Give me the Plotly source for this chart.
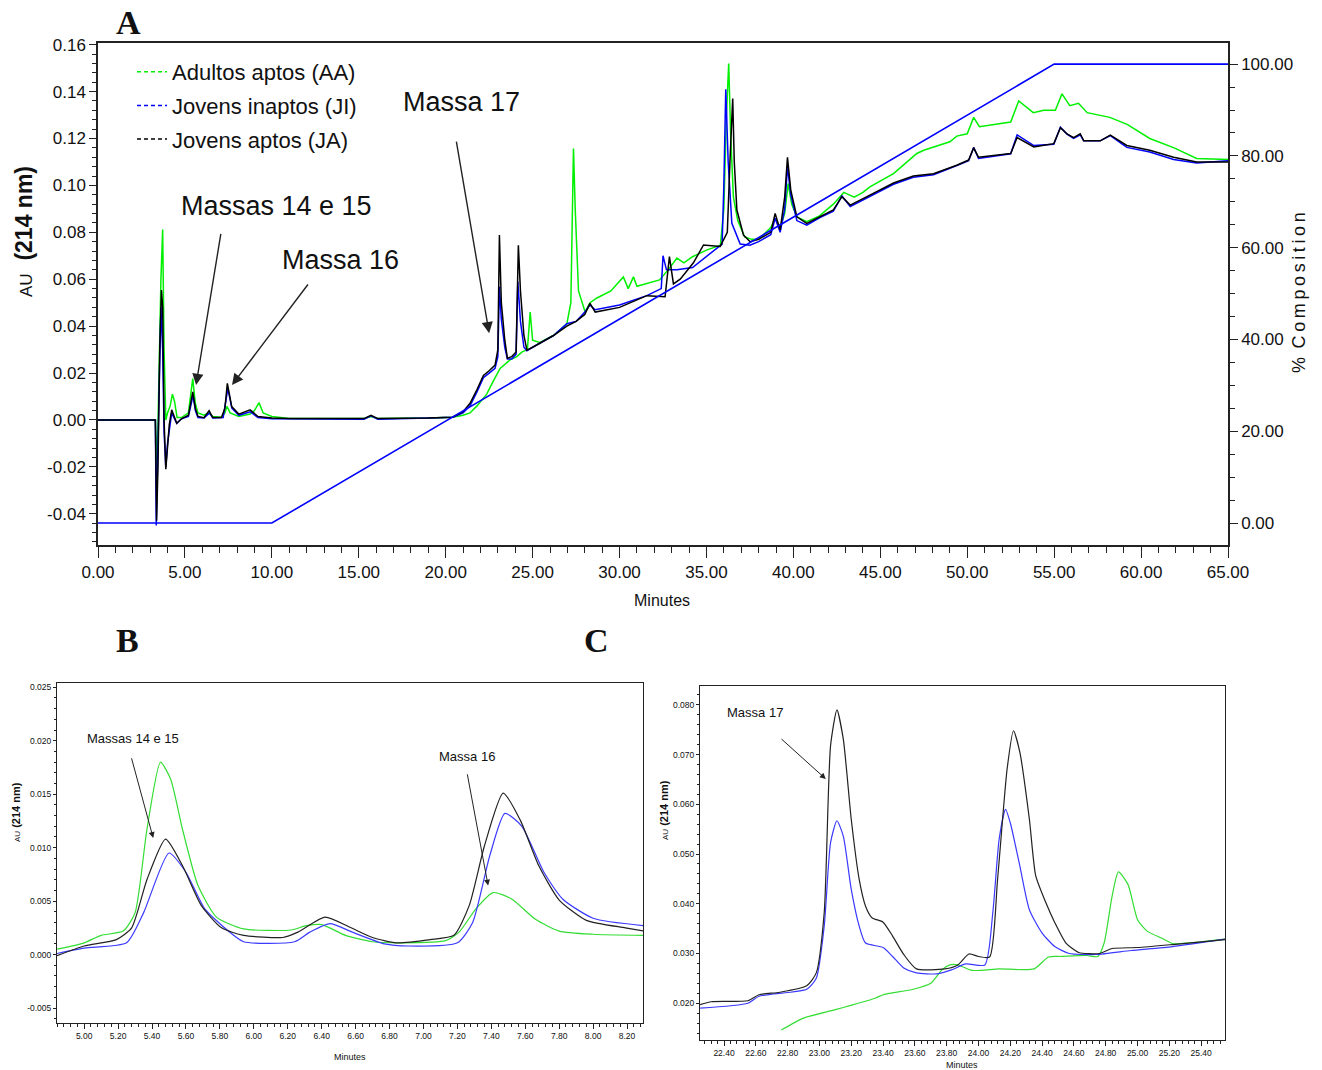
import plotly.graph_objects as go

# ---------------- Panel A data (minutes, AU) ----------------
ja_t = [0, 3.30, 3.37, 3.45, 3.55, 3.65, 3.72, 3.80, 3.90, 4.00, 4.10, 4.24, 4.40, 4.53, 4.80, 5.20, 5.45, 5.60, 5.75,
        6.10, 6.39, 6.60, 7.10, 7.30, 7.44, 7.55, 7.69, 8.10, 8.75, 9.20, 10.0, 11.0, 15.3, 15.7, 16.1, 19.0, 20.4,
        21.0, 21.4, 21.8, 22.17, 22.5, 22.84, 23.0, 23.09, 23.2, 23.4, 23.55, 23.8, 24.05, 24.18, 24.3, 24.5, 24.67,
        25.0, 26.2, 26.97, 27.5, 28.0, 28.3, 28.6, 30.0, 31.57, 32.62, 32.87, 33.1, 33.49, 34.25, 34.83, 35.79, 35.98,
        36.2, 36.35, 36.51, 36.6, 36.75, 37.13, 37.51, 38.0, 38.7, 38.95, 39.24, 39.5, 39.66, 39.85, 40.2, 40.77,
        41.5, 42.3, 42.79, 43.27, 44.23, 45.76, 46.9, 48.06, 49.4, 50.08, 50.37, 50.65, 52.5, 52.87, 53.83, 54.98,
        55.36, 55.74, 56.12, 56.5, 56.7, 57.65, 58.23, 59.18, 60.5, 61.87, 63.2, 65.0]
ja_au = [0.0, 0.0, -0.043, -0.02, 0.03, 0.0554, 0.048, 0.0, -0.021, -0.012, -0.002, 0.0043, 0.001, -0.0014, 0.0005,
         0.002, 0.012, 0.005, 0.0015, 0.001, 0.004, 0.001, 0.001, 0.005, 0.0156, 0.011, 0.0057, 0.0025, 0.0043,
         0.0015, 0.0008, 0.0006, 0.0006, 0.002, 0.0006, 0.0008, 0.0012, 0.0035, 0.0071, 0.013, 0.019, 0.021, 0.0234,
         0.03, 0.0788, 0.05, 0.034, 0.0263, 0.027, 0.029, 0.0745, 0.055, 0.036, 0.0298, 0.031, 0.036, 0.040, 0.042,
         0.045, 0.0497, 0.046, 0.048, 0.053, 0.0525, 0.0696, 0.058, 0.060, 0.067, 0.0746, 0.074, 0.077, 0.08, 0.11,
         0.137, 0.11, 0.0895, 0.0788, 0.076, 0.077, 0.08, 0.088, 0.081, 0.095, 0.112, 0.098, 0.0866, 0.0838, 0.0866,
         0.0895, 0.0952, 0.0916, 0.0952, 0.101, 0.104, 0.105, 0.1086, 0.1108, 0.116, 0.112, 0.1136, 0.1204, 0.1164,
         0.1178, 0.1246, 0.122, 0.1204, 0.122, 0.119, 0.119, 0.1214, 0.117, 0.115, 0.112, 0.110, 0.110]

ji_t = [0, 3.30, 3.35, 3.45, 3.55, 3.62, 3.72, 3.80, 3.90, 4.00, 4.24, 4.53, 4.80, 5.20, 5.47, 5.60, 5.75, 6.10, 6.42,
        6.60, 7.20, 7.47, 7.70, 8.10, 8.75, 9.20, 10.0, 15.3, 15.7, 16.1, 19.0, 20.4, 21.0, 21.4, 21.8, 22.17, 22.5,
        22.84, 23.0, 23.09, 23.2, 23.4, 23.55, 23.8, 24.05, 24.15, 24.3, 24.5, 24.67, 25.0, 26.2, 26.97, 27.5, 28.0,
        28.3, 28.6, 30.0, 31.57, 32.4, 32.5, 32.7, 33.3, 34.2, 35.4, 35.9, 36.0, 36.11, 36.25, 36.46, 36.94, 37.5,
        38.0, 38.7, 38.95, 39.24, 39.5, 39.66, 39.85, 40.2, 40.77, 41.5, 42.3, 42.79, 43.27, 44.23, 45.76, 46.9,
        48.06, 49.4, 50.08, 50.37, 50.65, 52.5, 52.87, 53.83, 54.98, 55.36, 55.74, 56.12, 56.5, 56.7, 57.65, 58.23,
        59.18, 60.5, 61.87, 63.2, 65.0]
ji_au = [0.0, 0.0, -0.045, -0.01, 0.035, 0.048, 0.03, -0.005, -0.02, -0.01, 0.003, -0.0015, 0.0005, 0.0015, 0.0105,
         0.004, 0.001, 0.0008, 0.003, 0.0008, 0.001, 0.0135, 0.005, 0.002, 0.0035, 0.001, 0.0005, 0.0003, 0.0018,
         0.0003, 0.0008, 0.0012, 0.003, 0.006, 0.012, 0.018, 0.020, 0.022, 0.027, 0.0568, 0.043, 0.031, 0.026, 0.026,
         0.028, 0.059, 0.042, 0.031, 0.0295, 0.031, 0.036, 0.041, 0.042, 0.046, 0.049, 0.047, 0.049, 0.053, 0.056,
         0.070, 0.064, 0.064, 0.065, 0.072, 0.075, 0.10, 0.141, 0.11, 0.0838, 0.075, 0.0745, 0.076, 0.079, 0.086,
         0.080, 0.09, 0.108, 0.096, 0.085, 0.083, 0.0862, 0.089, 0.0955, 0.091, 0.0948, 0.1005, 0.1035, 0.1045,
         0.1085, 0.1105, 0.1162, 0.1115, 0.1135, 0.1215, 0.117, 0.1175, 0.1248, 0.1218, 0.12, 0.1215, 0.119, 0.119,
         0.1212, 0.1162, 0.1142, 0.111, 0.1095, 0.1105]

aa_t = [0, 3.30, 3.40, 3.50, 3.62, 3.72, 3.80, 3.90, 4.00, 4.15, 4.28, 4.40, 4.55, 4.80, 5.20, 5.45, 5.60, 5.75, 6.10,
        6.35, 6.60, 7.10, 7.30, 7.42, 7.60, 8.10, 8.75, 9.00, 9.26, 9.50, 10.0, 11.0, 15.3, 15.7, 16.1, 19.0, 20.4,
        21.0, 21.4, 21.8, 22.36, 22.7, 23.13, 23.7, 24.09, 24.4, 24.7, 24.86, 25.0, 25.4, 26.2, 26.97, 27.2, 27.35,
        27.45, 27.64, 28.02, 28.3, 28.7, 29.5, 30.22, 30.5, 30.8, 31.0, 31.5, 32.3, 32.8, 33.3, 33.7, 34.2, 35.0,
        35.8, 36.0, 36.15, 36.28, 36.4, 36.55, 36.8, 37.2, 37.6, 38.0, 38.7, 38.95, 39.24, 39.5, 39.7, 39.9, 40.2,
        40.77, 41.5, 42.3, 42.9, 43.5, 44.0, 44.4, 45.76, 47.1, 47.5, 49.0, 49.4, 50.0, 50.37, 50.7, 52.5, 52.96,
        53.8, 54.4, 55.07, 55.45, 55.9, 56.4, 56.9, 58.2, 59.2, 60.5, 61.9, 63.2, 65.0]
aa_au = [0.0, 0.0, -0.02, 0.02, 0.06, 0.0812, 0.03, 0.0, 0.003, 0.006, 0.011, 0.008, 0.001, 0.001, 0.003, 0.0176,
         0.007, 0.003, 0.002, 0.003, 0.0015, 0.0012, 0.003, 0.0058, 0.003, 0.0015, 0.0025, 0.004, 0.0074, 0.003,
         0.0015, 0.0006, 0.0006, 0.0015, 0.0006, 0.0008, 0.0012, 0.002, 0.003, 0.006, 0.011, 0.016, 0.022, 0.0256,
         0.027, 0.029, 0.030, 0.046, 0.034, 0.033, 0.036, 0.041, 0.05, 0.1157, 0.09, 0.055, 0.046, 0.050, 0.052,
         0.055, 0.061, 0.056, 0.061, 0.057, 0.058, 0.0597, 0.064, 0.069, 0.067, 0.0696, 0.0724, 0.0745, 0.09, 0.13,
         0.152, 0.12, 0.095, 0.085, 0.078, 0.077, 0.077, 0.082, 0.086, 0.082, 0.088, 0.1008, 0.092, 0.0866, 0.0845,
         0.087, 0.092, 0.097, 0.095, 0.097, 0.0994, 0.105, 0.1136, 0.115, 0.1186, 0.121, 0.122, 0.129, 0.125, 0.127,
         0.136, 0.131, 0.132, 0.132, 0.139, 0.134, 0.135, 0.131, 0.129, 0.126, 0.120, 0.116, 0.1115, 0.111]

grad_t = [0, 10, 55, 65]
grad_pct = [0, 0, 100, 100]

# ---------------- Panel B data ----------------
b_ja_t = [4.84, 5.00, 5.19, 5.28, 5.37, 5.48, 5.58, 5.69, 5.81, 5.94, 6.17, 6.26, 6.42, 6.56, 6.70, 6.84, 7.04, 7.18,
          7.27, 7.36, 7.47, 7.57, 7.68, 7.80, 7.96, 8.19, 8.30]
b_ja_au = [-0.0001, 0.0008, 0.0014, 0.0025, 0.007, 0.0108, 0.0083, 0.0046, 0.0025, 0.0018, 0.0016, 0.0021, 0.0035,
           0.0026, 0.0016, 0.0011, 0.0014, 0.0018, 0.0046, 0.0102, 0.0151, 0.0126, 0.0083, 0.0051, 0.0032, 0.0025,
           0.0022]
b_ji_t = [4.84, 5.00, 5.25, 5.35, 5.50, 5.60, 5.71, 5.85, 5.94, 6.24, 6.33, 6.45, 6.58, 6.77, 6.91, 7.20, 7.29, 7.39,
          7.48, 7.58, 7.71, 7.82, 8.00, 8.30]
b_ji_au = [0.0001, 0.0006, 0.0011, 0.0039, 0.0095, 0.0077, 0.0043, 0.0022, 0.0012, 0.0012, 0.0021, 0.0029, 0.0021,
           0.0010, 0.0008, 0.0011, 0.003, 0.0092, 0.0132, 0.012, 0.0077, 0.0052, 0.0034, 0.0027]
b_aa_t = [4.84, 5.00, 5.10, 5.23, 5.30, 5.37, 5.45, 5.51, 5.58, 5.67, 5.78, 5.94, 6.22, 6.31, 6.40, 6.54, 6.70, 6.88,
          7.13, 7.21, 7.31, 7.41, 7.52, 7.66, 7.80, 8.00, 8.30]
b_aa_au = [0.0005, 0.0011, 0.0018, 0.0022, 0.0039, 0.0117, 0.018, 0.0164, 0.0117, 0.0065, 0.0035, 0.0024, 0.0023,
           0.0027, 0.0028, 0.0018, 0.0012, 0.0011, 0.0013, 0.0021, 0.0043, 0.0058, 0.0052, 0.0033, 0.0022, 0.0019,
           0.0018]

# ---------------- Panel C data ----------------
c_ja_t = [22.25, 22.32, 22.55, 22.62, 22.75, 22.92, 22.98, 23.03, 23.07, 23.11, 23.15, 23.20, 23.25, 23.29, 23.33,
          23.40, 23.46, 23.53, 23.61, 23.79, 23.87, 23.94, 24.00, 24.07, 24.12, 24.18, 24.22, 24.26, 24.32, 24.36,
          24.42, 24.48, 24.55, 24.63, 24.76, 24.84, 25.00, 25.22, 25.55]
c_ja_au = [0.0197, 0.0203, 0.0205, 0.0217, 0.0222, 0.0235, 0.0261, 0.0382, 0.0718, 0.079, 0.0731, 0.057, 0.0449,
           0.0395, 0.0372, 0.0363, 0.0335, 0.0298, 0.0269, 0.0269, 0.0277, 0.0299, 0.0294, 0.0293, 0.0449, 0.0671,
           0.0748, 0.0705, 0.057, 0.0456, 0.0405, 0.0362, 0.0321, 0.0302, 0.030, 0.031, 0.0312, 0.0318, 0.0328]
c_ji_t = [22.25, 22.55, 22.62, 22.92, 22.98, 23.03, 23.07, 23.11, 23.15, 23.20, 23.25, 23.29, 23.40, 23.46, 23.53,
          23.61, 23.74, 23.83, 23.92, 24.04, 24.09, 24.13, 24.17, 24.20, 24.26, 24.32, 24.40, 24.48, 24.57, 24.74,
          24.96, 25.22, 25.55]
c_ji_au = [0.019, 0.020, 0.0214, 0.0228, 0.025, 0.0355, 0.0523, 0.0567, 0.0536, 0.0429, 0.0355, 0.0321, 0.0312,
           0.0294, 0.0271, 0.0261, 0.0259, 0.0267, 0.0279, 0.0277, 0.0382, 0.053, 0.059, 0.0563, 0.0476, 0.0388,
           0.0341, 0.0314, 0.0300, 0.0298, 0.0306, 0.0314, 0.0329]
c_aa_t = [22.76, 22.90, 23.10, 23.35, 23.40, 23.59, 23.70, 23.77, 23.82, 23.87, 23.96, 24.13, 24.35, 24.44, 24.52,
          24.68, 24.75, 24.79, 24.84, 24.88, 24.94, 25.00, 25.06, 25.15, 25.22, 25.32, 25.55]
c_aa_au = [0.0146, 0.017, 0.0187, 0.021, 0.0217, 0.0228, 0.024, 0.0267, 0.0277, 0.0277, 0.0266, 0.0269, 0.0269,
           0.0293, 0.0294, 0.0296, 0.0294, 0.0321, 0.0415, 0.0464, 0.0439, 0.0368, 0.0345, 0.0331, 0.032, 0.0321,
           0.0329]

series_names = ["Adultos aptos (AA)", "Jovens inaptos (JI)", "Jovens aptos (JA)"]

# tick labels (ASCII hyphen minus, as in the original)
a_y_tickvals = [-0.04, -0.02, 0.0, 0.02, 0.04, 0.06, 0.08, 0.10, 0.12, 0.14, 0.16]
a_y_ticktext = ["-0.04", "-0.02", "0.00", "0.02", "0.04", "0.06", "0.08", "0.10", "0.12", "0.14", "0.16"]
b_y_tickvals = [-0.005, 0.0, 0.005, 0.010, 0.015, 0.020, 0.025]
b_y_ticktext = ["-0.005", "0.000", "0.005", "0.010", "0.015", "0.020", "0.025"]

W, H = 1322, 1070
SANS = "Liberation Sans, Arial, sans-serif"
SERIF = "Liberation Serif, Times New Roman, serif"

GREEN, BLUE, BLACK = "#00f000", "#0000ff", "#000000"
GREEN2, BLUE2, BLACK2 = "#33dd33", "#3a3aff", "#222222"


def px(x):
    return x / W


def py(y):
    return 1 - y / H


fig = go.Figure()

# Panel A
fig.add_trace(go.Scatter(x=grad_t, y=grad_pct, mode="lines", yaxis="y2", xaxis="x",
                         line=dict(color=BLUE, width=1.6), showlegend=False, hoverinfo="skip"))
fig.add_trace(go.Scatter(x=aa_t, y=aa_au, mode="lines", xaxis="x", yaxis="y",
                         line=dict(color=GREEN, width=1.5), showlegend=False, name=series_names[0]))
fig.add_trace(go.Scatter(x=ji_t, y=ji_au, mode="lines", xaxis="x", yaxis="y",
                         line=dict(color=BLUE, width=1.5), showlegend=False, name=series_names[1]))
fig.add_trace(go.Scatter(x=ja_t, y=ja_au, mode="lines", xaxis="x", yaxis="y",
                         line=dict(color=BLACK, width=1.5), showlegend=False, name=series_names[2]))
# legend entries (dashed samples like the original)
for i, (nm, col) in enumerate(zip(series_names, [GREEN, BLUE, BLACK])):
    fig.add_trace(go.Scatter(x=[None], y=[None], mode="lines", xaxis="x", yaxis="y", name=nm,
                             legendgroup=f"g{i}",
                             line=dict(color=col, width=1.5, dash="4px,3px"), showlegend=True))

# Panel B
sm = dict(shape="spline", smoothing=0.6)
fig.add_trace(go.Scatter(x=b_aa_t, y=b_aa_au, mode="lines", xaxis="x2", yaxis="y3",
                         line=dict(color=GREEN2, width=1.2, **sm), showlegend=False, name=series_names[0]))
fig.add_trace(go.Scatter(x=b_ji_t, y=b_ji_au, mode="lines", xaxis="x2", yaxis="y3",
                         line=dict(color=BLUE2, width=1.2, **sm), showlegend=False, name=series_names[1]))
fig.add_trace(go.Scatter(x=b_ja_t, y=b_ja_au, mode="lines", xaxis="x2", yaxis="y3",
                         line=dict(color=BLACK2, width=1.2, **sm), showlegend=False, name=series_names[2]))

# Panel C
fig.add_trace(go.Scatter(x=c_aa_t, y=c_aa_au, mode="lines", xaxis="x3", yaxis="y4",
                         line=dict(color=GREEN2, width=1.2, **sm), showlegend=False, name=series_names[0]))
fig.add_trace(go.Scatter(x=c_ji_t, y=c_ji_au, mode="lines", xaxis="x3", yaxis="y4",
                         line=dict(color=BLUE2, width=1.2, **sm), showlegend=False, name=series_names[1]))
fig.add_trace(go.Scatter(x=c_ja_t, y=c_ja_au, mode="lines", xaxis="x3", yaxis="y4",
                         line=dict(color=BLACK2, width=1.2, **sm), showlegend=False, name=series_names[2]))

axA = dict(showline=True, linecolor="#222", linewidth=1.5, mirror=True, showgrid=False, zeroline=False,
           ticks="outside", tickcolor="#222", tickfont=dict(family=SANS, size=17, color="#111"))
axS = dict(showline=True, linecolor="#222", linewidth=1, mirror=True, showgrid=False, zeroline=False,
           ticks="outside", tickcolor="#222", tickfont=dict(family=SANS, size=8.5, color="#111"))

fig.update_layout(
    width=W, height=H, margin=dict(l=0, r=0, t=0, b=0, autoexpand=False),
    paper_bgcolor="white", plot_bgcolor="white",
    xaxis=dict(axA, domain=[px(98), px(1228)], range=[0, 65], dtick=5, tickformat=".2f", ticklen=11,
               minor=dict(dtick=1, ticklen=6, ticks="outside", tickcolor="#222"), anchor="y"),
    yaxis=dict(axA, domain=[py(545), py(43)], range=[-0.0533, 0.1607], tickvals=a_y_tickvals,
               ticktext=a_y_ticktext, ticklen=7,
               minor=dict(dtick=0.004, ticklen=4, ticks="outside", tickcolor="#222"), anchor="x"),
    yaxis2=dict(axA, overlaying="y", side="right", anchor="x", range=[-4.79, 104.6], dtick=20,
                tickformat=".2f", ticklen=8, mirror=False,
                minor=dict(dtick=5, ticklen=5, ticks="outside", tickcolor="#222")),
    xaxis2=dict(axS, domain=[px(57), px(643)], range=[4.84, 8.294], dtick=0.2, tick0=5.0, tickformat=".2f",
                ticklen=5, minor=dict(dtick=0.04, ticklen=3, ticks="outside", tickcolor="#222"), anchor="y3"),
    yaxis3=dict(axS, domain=[py(1023), py(683)], range=[-0.0064, 0.0254], tickvals=b_y_tickvals,
                ticktext=b_y_ticktext, ticklen=3,
                minor=dict(dtick=0.001, ticklen=2, ticks="outside", tickcolor="#222"), anchor="x2"),
    xaxis3=dict(axS, domain=[px(700), px(1225)], range=[22.249, 25.55], dtick=0.2, tick0=22.4, tickformat=".2f",
                ticklen=5, minor=dict(dtick=0.04, ticklen=3, ticks="outside", tickcolor="#222"), anchor="y4"),
    yaxis4=dict(axS, domain=[py(1040), py(686)], range=[0.0126, 0.0838], dtick=0.01, tickformat=".3f",
                ticklen=3, minor=dict(dtick=0.002, ticklen=2, ticks="outside", tickcolor="#222"), anchor="x3"),
    legend=dict(x=px(132), y=py(51), xanchor="left", yanchor="top", bgcolor="rgba(0,0,0,0)",
                font=dict(family=SANS, size=22, color="#111"), itemwidth=30, tracegroupgap=2,
                traceorder="grouped"),
    showlegend=True,
)

ann = []


def label(text, x, y, size, family=SANS, angle=0):
    ann.append(dict(text=text, x=px(x), y=py(y), xref="paper", yref="paper", showarrow=False,
                    xanchor="center", yanchor="middle", textangle=angle,
                    font=dict(family=family, size=size, color="#111")))


# panel letters
for t, x, y in [("A", 128, 22), ("B", 127, 640), ("C", 596, 640)]:
    label(f"<b>{t}</b>", x, y, 34, family=SERIF)
# axis titles
label("<span style='font-size:17px'>AU</span>  <b>(214 nm)</b>", 24, 232, 23, angle=-90)
label("% \u2009C\u2009o\u2009m\u2009p\u2009o\u2009s\u2009i\u2009t\u2009i\u2009o\u2009n", 1299, 293, 18, angle=-90)
label("Minutes", 662, 600, 16)
label("<span style='font-size:8px'>AU</span> <b>(214 nm)</b>", 16, 812, 11, angle=-90)
label("Minutes", 350, 1057, 9)
label("<span style='font-size:8px'>AU</span> <b>(214 nm)</b>", 664, 810, 11, angle=-90)
label("Minutes", 962, 1065, 9)

# Panel A peak labels
label("Massas 14 e 15", 276, 206, 27)
label("Massa 16", 340, 260, 27)
label("Massa 17", 461, 102, 27)
for hx, hy, tx, ty in [(5.64, 0.0149, 7.08, 0.080), (7.71, 0.0149, 12.14, 0.0584), (22.5, 0.037, 20.6, 0.1193)]:
    ann.append(dict(text="", x=hx, y=hy, ax=tx, ay=ty, xref="x", yref="y", axref="x", ayref="y",
                    showarrow=True, arrowhead=2, arrowsize=1.6, arrowwidth=1.4, arrowcolor="#222"))

# Panel B labels
label("Massas 14 e 15", 133, 738, 13)
label("Massa 16", 467, 756, 13)
for hx, hy, tx, ty in [(5.407, 0.0109, 5.277, 0.0185), (7.381, 0.00645, 7.257, 0.0170)]:
    ann.append(dict(text="", x=hx, y=hy, ax=tx, ay=ty, xref="x2", yref="y3", axref="x2", ayref="y3",
                    showarrow=True, arrowhead=2, arrowsize=1.2, arrowwidth=1, arrowcolor="#222"))

# Panel C label
label("Massa 17", 755, 712, 13)
ann.append(dict(text="", x=23.04, y=0.0651, ax=22.752, ay=0.0734, xref="x3", yref="y4", axref="x3", ayref="y4",
                showarrow=True, arrowhead=2, arrowsize=1.2, arrowwidth=1, arrowcolor="#222"))

fig.update_layout(annotations=ann)
fig.write_html("out.html", config={"displayModeBar": False},
               post_script="document.body.style.margin='0px';")
